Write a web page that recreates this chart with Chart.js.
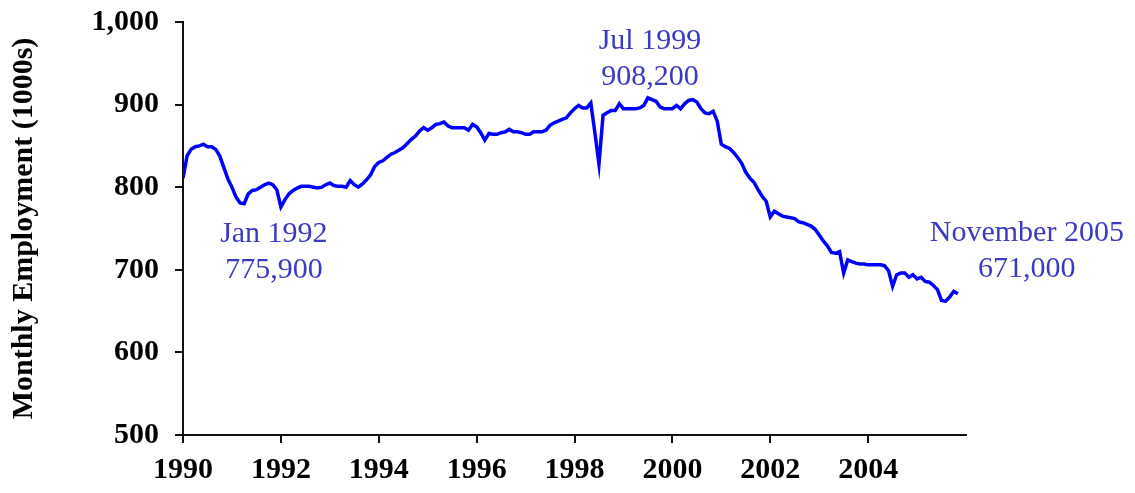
<!DOCTYPE html>
<html>
<head>
<meta charset="utf-8">
<script src="https://cdn.jsdelivr.net/npm/chart.js@4.4.1/dist/chart.umd.min.js"></script>
<style>
  html, body { margin: 0; padding: 0; background: #ffffff; overflow: hidden; }
  #c { display: block; }
</style>
</head>
<body>
<canvas id="c" width="1135" height="493"></canvas>
<script>
// ---------- DATA (monthly employment, thousands) ----------
const startYear = 1990;
const d1990 = [811, 838, 846, 849, 850, 852, 849, 849, 846, 838, 824, 810];
const d1991 = [800, 788, 781, 780, 792, 796, 797, 800, 803, 805, 803, 797];
const d1992 = [776, 785, 792, 796, 799, 801, 801, 801, 800, 799, 800, 803];
const d1993 = [805, 802, 801, 801, 800, 808, 803, 800, 804, 809, 815, 825];
const d1994 = [830, 832, 836, 840, 842, 845, 848, 853, 858, 862, 868, 872];
const d1995 = [869, 872, 876, 877, 879, 874, 872, 872, 872, 872, 869, 876];
const d1996 = [873, 866, 857, 865, 864, 864, 866, 867, 870, 867, 867, 866];
const d1997 = [864, 864, 867, 867, 867, 869, 875, 878, 880, 882, 884, 890];
const d1998 = [895, 899, 896, 896, 902, 866, 828, 887, 890, 893, 893, 901];
const d1999 = [895, 895, 895, 895, 896, 899, 908.2, 906, 904, 897, 895, 895];
const d2000 = [895, 899, 895, 901, 905, 906, 903, 895, 890, 889, 892, 880];
const d2001 = [852, 849, 847, 842, 836, 829, 818, 811, 806, 797, 789, 783];
const d2002 = [764, 771, 768, 765, 764, 763, 762, 758, 757, 755, 753, 749];
const d2003 = [742, 735, 729, 721, 720, 722, 696, 712, 710, 708, 707, 707];
const d2004 = [706, 706, 706, 706, 705, 699, 680, 694, 696, 696, 691, 694];
const d2005 = [689, 691, 686, 685, 681, 676, 663, 662, 667, 674, 671];
const yearSeries = [d1990, d1991, d1992, d1993, d1994, d1995, d1996, d1997,
                    d1998, d1999, d2000, d2001, d2002, d2003, d2004, d2005];

const xTickYears = [1990, 1992, 1994, 1996, 1998, 2000, 2002, 2004];
const yTickValues = [500, 600, 700, 800, 900, 1000];
const axisTitle = 'Monthly Employment (1000s)';

const noteTexts = [
  ['Jan 1992', '775,900'],
  ['Jul 1999', '908,200'],
  ['November 2005', '671,000']
];
const noteAtYear = [1992, 1999.5, 2005 + 10 / 12];
const noteAtValue = [775.9, 908.2, 671];

// ---------- build points ----------
const points = [];
yearSeries.forEach((arr, k) => {
  arr.forEach((v, i) => points.push({ x: startYear + k + i / 12, y: v }));
});

const FONT = "'Liberation Serif', 'Times New Roman', serif";
// pixel offsets of the note text from its data point
const noteOffsets = [{ dx: -7, dy: 27 }, { dx: 2, dy: -57 }, { dx: 69, dy: -61 }];

const notesPlugin = {
  id: 'notes',
  afterDatasetsDraw(chart) {
    const { ctx, scales: { x, y } } = chart;
    ctx.save();
    ctx.font = `30px ${FONT}`;
    ctx.fillStyle = '#3a3ac2';
    ctx.textAlign = 'center';
    ctx.textBaseline = 'middle';
    noteTexts.forEach((lines, k) => {
      const px = x.getPixelForValue(noteAtYear[k]) + noteOffsets[k].dx;
      const py = y.getPixelForValue(noteAtValue[k]) + noteOffsets[k].dy;
      lines.forEach((t, j) => ctx.fillText(t, px, py + j * 36));
    });
    ctx.restore();
  }
};

const zeroPad = s => { s.paddingTop = 0; s.paddingBottom = 0; s.paddingLeft = 0; s.paddingRight = 0; };

new Chart(document.getElementById('c'), {
  type: 'line',
  data: {
    datasets: [{
      data: points,
      borderColor: '#0000ff',
      borderWidth: 3.5,
      pointRadius: 0,
      tension: 0,
      fill: false
    }]
  },
  options: {
    responsive: false,
    devicePixelRatio: 1,
    animation: false,
    layout: { padding: { left: 0, top: 22, right: 169, bottom: 0 } },
    plugins: { legend: { display: false }, tooltip: { enabled: false } },
    scales: {
      x: {
        type: 'linear',
        min: 1990,
        max: 2006,
        afterBuildTicks: s => { s.ticks = xTickYears.map(v => ({ value: v })); },
        afterFit: s => { s.height = 58; zeroPad(s); },
        ticks: {
          callback: v => String(v),
          color: '#000',
          font: { family: FONT, size: 30, weight: 'bold' },
          padding: 9,
          maxRotation: 0,
          autoSkip: false
        },
        grid: { drawOnChartArea: false, drawTicks: true, tickLength: 8, color: '#111', lineWidth: 2 },
        border: { display: true, color: '#111', width: 2 }
      },
      y: {
        min: 500,
        max: 1000,
        afterBuildTicks: s => { s.ticks = yTickValues.map(v => ({ value: v })); },
        afterFit: s => { s.width = 183; zeroPad(s); },
        ticks: {
          callback: v => v.toLocaleString('en-US'),
          color: '#000',
          font: { family: FONT, size: 30, weight: 'bold' },
          padding: 16
        },
        grid: { drawOnChartArea: false, drawTicks: true, tickLength: 8, color: '#111', lineWidth: 2 },
        border: { display: true, color: '#111', width: 2 },
        title: {
          display: true,
          text: axisTitle,
          color: '#000',
          font: { family: FONT, size: 30, weight: 'bold' },
          padding: { top: 6, bottom: 0 }
        }
      }
    }
  },
  plugins: [notesPlugin]
});
</script>
</body>
</html>
